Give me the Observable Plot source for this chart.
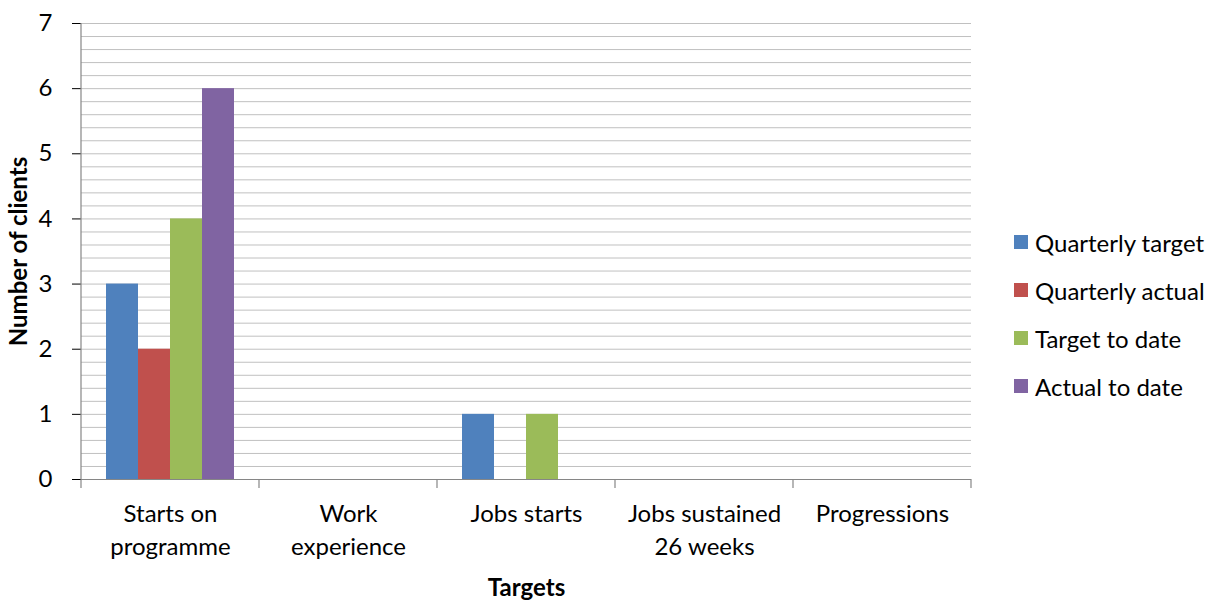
<!DOCTYPE html>
<html>
<head>
<meta charset="utf-8">
<script src="https://cdn.jsdelivr.net/npm/d3@7"></script>
<script src="https://cdn.jsdelivr.net/npm/@observablehq/plot@0.6"></script>
<style>
  html, body { margin: 0; padding: 0; background: #fff; }
  #wrap { position: relative; width: 1219px; height: 601px; font-family: Lato, "DejaVu Sans", sans-serif; }
  #chart { position: absolute; left: 0; top: 0; }
  [aria-label="y-axis label"], [aria-label="fx-axis label"] { font-weight: bold; }
  [aria-label="y-axis tick"] { stroke: #868686; }
  #legend { position: absolute; left: 1014px; top: 218px; font-size: 24px; color: #000; }
  .item { display: flex; align-items: center; height: 48px; }
  .sw { width: 14px; height: 14px; margin-right: 7px; }
</style>
</head>
<body>
<div id="wrap"><div id="chart"></div><div id="legend"></div></div>
<script>
const categories = ["Starts on\nprogramme", "Work\nexperience", "Jobs starts", "Jobs sustained\n26 weeks", "Progressions"];
const seriesNames = ["Quarterly target", "Quarterly actual", "Target to date", "Actual to date"];
const quarterlyTarget = [3, 0, 1, 0, 0];
const quarterlyActual = [2, 0, 0, 0, 0];
const targetToDate = [4, 0, 1, 0, 0];
const actualToDate = [6, 0, 0, 0, 0];
const yTicks = [0, 1, 2, 3, 4, 5, 6, 7];
const colors = ["#4F81BD", "#C0504D", "#9BBB59", "#8064A2"];

const seriesValues = [quarterlyTarget, quarterlyActual, targetToDate, actualToDate];
const rows = [];
categories.forEach((c, i) => seriesNames.forEach((s, j) => rows.push({category: c, series: s, value: seriesValues[j][i]})));
const minorGrid = d3.range(1, 36).map(k => k / 5);

const plot = Plot.plot({
  width: 1000,
  height: 601,
  marginLeft: 81,
  marginRight: 29,
  marginTop: 23,
  marginBottom: 122,
  style: {fontFamily: "Lato, 'DejaVu Sans', sans-serif", fontSize: "24px", color: "#000", background: "#fff"},
  fx: {domain: categories, padding: 0},
  x: {domain: seriesNames, paddingInner: 0, paddingOuter: 0.76, axis: null},
  y: {domain: [0, 7]},
  color: {domain: seriesNames, range: colors},
  marks: [
    Plot.ruleY(minorGrid, {stroke: "#c0c0c0", strokeWidth: 1}),
    Plot.barY(rows, {fx: "category", x: "series", y: "value", fill: "series"}),
    Plot.ruleY([0], {stroke: "#868686", strokeWidth: 1.2}),
    Plot.axisY({ticks: yTicks, tickFormat: d => String(d), tickSize: 9, tickPadding: 20, label: "Number of clients", labelAnchor: "center", labelArrow: "none", labelOffset: 72}),
    Plot.axisFx({anchor: "bottom", tickSize: 0, tickPadding: 19, lineHeight: 1.38, label: "Targets", labelAnchor: "center", labelArrow: "none", labelOffset: 116})
  ]
});
document.getElementById("chart").appendChild(plot);

// axis line and category boundary ticks, positioned from the plot's own scales
const fx = plot.scale("fx"), y = plot.scale("y");
const svg = d3.select(plot);
const y0 = y.apply(0), y7 = y.apply(7);
const left = fx.apply(categories[0]);
const bounds = categories.map(c => fx.apply(c)).concat([fx.apply(categories[categories.length - 1]) + fx.bandwidth]);
const g = svg.append("g").attr("stroke", "#868686").attr("stroke-width", 1.2);
g.append("line").attr("x1", left).attr("x2", left).attr("y1", y7).attr("y2", y0);
bounds.forEach(b => g.append("line").attr("x1", b).attr("x2", b).attr("y1", y0).attr("y2", y0 + 9));

const legend = d3.select("#legend");
seriesNames.forEach((s, i) => {
  const it = legend.append("div").attr("class", "item");
  it.append("div").attr("class", "sw").style("background", colors[i]);
  it.append("span").text(s);
});
</script>
</body>
</html>
